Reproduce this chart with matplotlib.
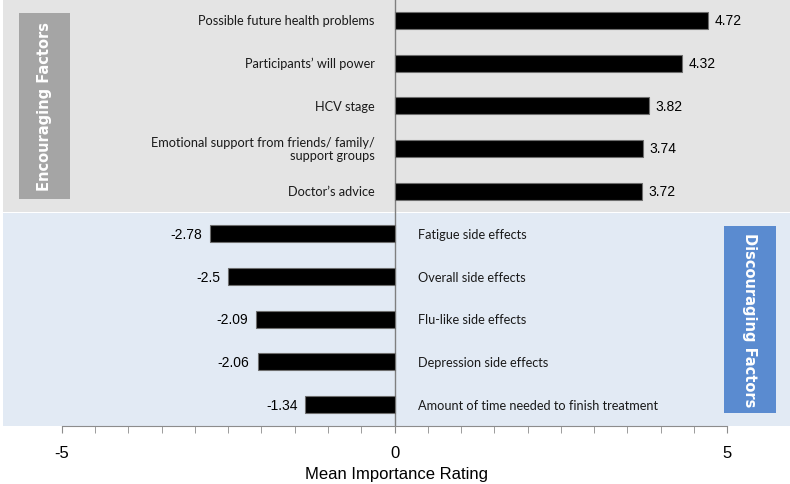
import numpy as np
import matplotlib
matplotlib.use('Agg')
import matplotlib.pyplot as plt
from matplotlib.patches import Rectangle
from matplotlib.ticker import FixedLocator

plt.rcParams['axes.unicode_minus'] = False

# Data
encouraging_labels = [
    'Possible future health problems',
    'Participants\u2019 will power',
    'HCV stage',
    'Emotional support from friends/ family/\nsupport groups',
    'Doctor\u2019s advice',
]
encouraging_values = [4.72, 4.32, 3.82, 3.74, 3.72]

discouraging_labels = [
    'Fatigue side effects',
    'Overall side effects',
    'Flu-like side effects',
    'Depression side effects',
    'Amount of time needed to finish treatment',
]
discouraging_values = [-2.78, -2.5, -2.09, -2.06, -1.34]

labels = encouraging_labels + discouraging_labels
values = encouraging_values + discouraging_values
n_enc = len(encouraging_values)

fig = plt.figure(figsize=(7.9, 4.85), dpi=100)
fig.patch.set_facecolor('white')
ax = fig.add_axes([3 / 790, 58 / 485, 787 / 790, 427 / 485])
ax.set_facecolor('white')

ypos = np.arange(len(values))
ax.set_xlim(-5.887, 5.947)
ax.set_ylim(len(values) - 0.5, -0.5)

# Section backgrounds
ax.axhspan(-0.5, n_enc - 0.5, color='#e4e4e4', zorder=0, lw=0)
ax.axhspan(n_enc - 0.5, len(values) - 0.5, color='#e2eaf4', zorder=0, lw=0)

ax.barh(ypos, values, height=0.4, color='black', edgecolor='#6e6e6e',
        linewidth=0.8, zorder=3)
ax.axvline(0, color='#7f7f7f', linewidth=1, zorder=2)

# Value and category labels
for y, v, lab in zip(ypos, values, labels):
    if v >= 0:
        ax.text(v + 0.1, y, f'{v:g}', ha='left', va='center',
                fontsize=10, family='Liberation Sans', zorder=4)
        ax.text(-0.3, y, lab, ha='right', va='center', multialignment='right',
                fontsize=9.2, family='Lato', color='#1a1a1a', linespacing=1.1)
    else:
        ax.text(v - 0.12, y, f'{v:g}', ha='right', va='center',
                fontsize=10, family='Liberation Sans', zorder=4)
        ax.text(0.36, y, lab, ha='left', va='center',
                fontsize=9.2, family='Lato', color='#1a1a1a')

# Side boxes
ax.add_patch(Rectangle((0.0203, 0.532), 0.0648, 0.435, transform=ax.transAxes,
                       facecolor='#a5a5a5', edgecolor='none', zorder=3))
ax.text(0.0527, 0.75, 'Encouraging Factors', transform=ax.transAxes,
        rotation=90, ha='center', va='center', color='white',
        fontsize=10.5, fontweight='bold', zorder=4)
ax.add_patch(Rectangle((0.916, 0.030), 0.066, 0.438, transform=ax.transAxes,
                       facecolor='#5a8bd0', edgecolor='none', zorder=3))
ax.text(0.949, 0.249, 'Discouraging Factors', transform=ax.transAxes,
        rotation=270, ha='center', va='center', color='white',
        fontsize=10.5, fontweight='bold', zorder=4)

# Axes styling
for side in ['top', 'right', 'left']:
    ax.spines[side].set_visible(False)
ax.spines['bottom'].set_bounds(-5, 5)
ax.spines['bottom'].set_color('#8c8c8c')
ax.set_yticks([])
ax.set_xticks([-5, 0, 5])
ax.xaxis.set_minor_locator(FixedLocator(np.arange(-5, 5.01, 0.5)))
ax.tick_params(axis='x', which='both', direction='out', length=5,
               color='#8c8c8c', pad=9)
ax.tick_params(axis='x', which='major', labelsize=12)
for t in ax.get_xticklabels():
    t.set_family('Liberation Sans')
ax.set_xlabel('Mean Importance Rating', fontsize=12, family='Liberation Sans',
              labelpad=4)

fig.savefig('out.png', dpi=100)
